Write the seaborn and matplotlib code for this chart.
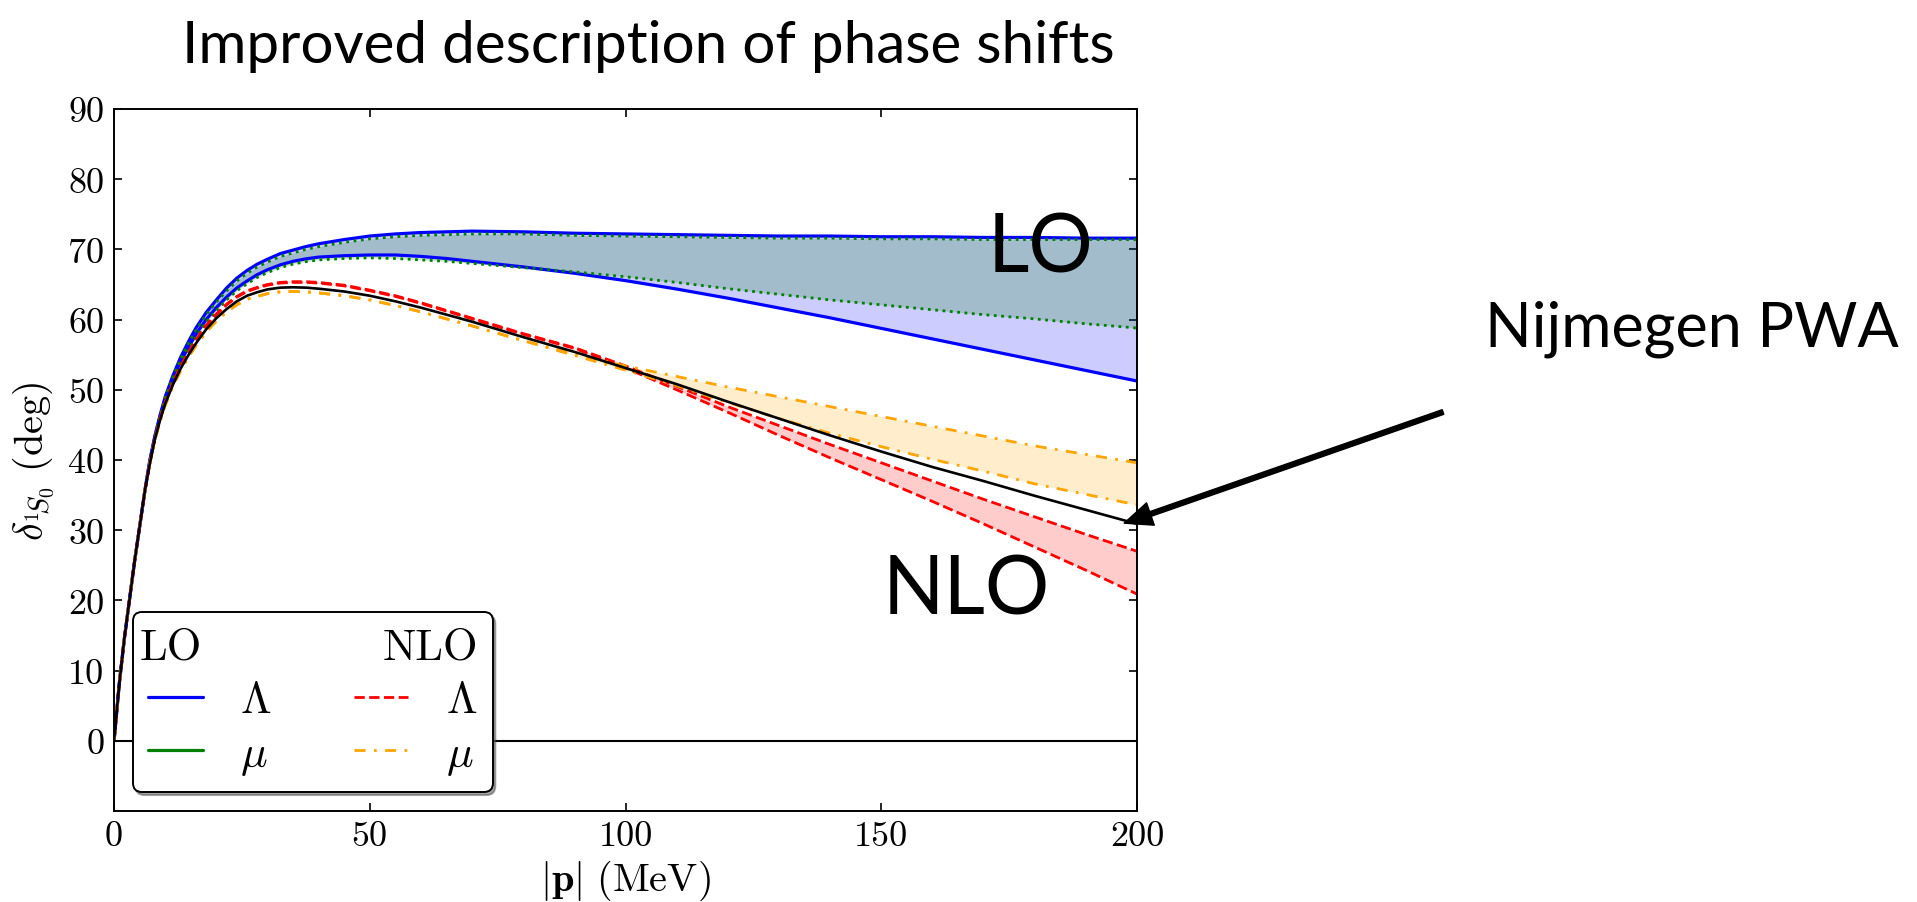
import numpy as np
import pandas as pd
import seaborn as sns
import matplotlib.pyplot as plt
from matplotlib.lines import Line2D
from matplotlib.legend_handler import HandlerBase
from matplotlib.text import Text

# ---- data (|p| in MeV, phase shift in deg) ----
p = [0, 1, 2, 3, 4, 5, 6, 7, 8, 9, 10,
     11.5, 13, 14.5, 16,
     18, 20, 22, 24, 26, 28, 30,
     32.5, 35, 37.5, 40,
     45, 50, 55, 60, 65, 70,
     80, 90, 100, 110, 120, 130, 140, 150, 160, 170, 180, 190, 200]

# Nijmegen PWA
pwa = [0, 8, 14.5, 20, 25.5, 30.5, 35.5, 39.5, 43, 45.7, 48.0,
       50.7, 53.0, 54.9, 56.6,
       58.6, 60.2, 61.5, 62.6, 63.4, 63.9, 64.3,
       64.55, 64.6, 64.55, 64.4,
       64.0, 63.4, 62.6, 61.7, 60.7, 59.7,
       57.5, 55.4, 53.1, 50.8, 48.3, 45.9, 43.5, 41.2, 39.0, 37.0, 34.9, 32.9, 30.9]

# LO, Lambda variation (band edges)
lo_lam_hi = [0, 8, 14.5, 20, 25.5, 30.5, 35.5, 40, 43.5, 46.4, 49.0,
             52.0, 54.6, 56.8, 58.8,
             61.0, 62.8, 64.5, 65.9, 67.0, 67.9, 68.6,
             69.4, 69.9, 70.4, 70.8,
             71.4, 71.9, 72.2, 72.4, 72.5, 72.6,
             72.5, 72.3, 72.2, 72.1, 72.0, 71.9, 71.9, 71.8, 71.8, 71.7, 71.7, 71.6, 71.6]
lo_lam_lo = [0, 8, 14.5, 20, 25.5, 30.5, 35.5, 39.8, 43.3, 46.1, 48.7,
             51.6, 54.0, 56.0, 57.9,
             60.0, 61.7, 63.2, 64.5, 65.5, 66.4, 67.1,
             67.8, 68.3, 68.65, 68.9,
             69.1, 69.2, 69.2, 69.0, 68.7, 68.3,
             67.5, 66.6, 65.55, 64.35, 63.05, 61.65, 60.25, 58.75, 57.25, 55.75, 54.25, 52.75, 51.25]

# LO, mu variation
lo_mu_hi = [0, 8, 14.5, 20, 25.5, 30.5, 35.5, 39.9, 43.4, 46.3, 48.9,
            51.8, 54.4, 56.6, 58.5,
            60.7, 62.5, 64.1, 65.5, 66.6, 67.5, 68.2,
            69.0, 69.5, 70.0, 70.4,
            71.0, 71.5, 71.8, 72.0, 72.1, 72.2,
            72.2, 72.0, 71.9, 71.8, 71.7, 71.6, 71.6, 71.5, 71.5, 71.4, 71.4, 71.4, 71.4]
lo_mu_lo = [0, 8, 14.5, 20, 25.5, 30.5, 35.5, 39.7, 43.2, 46.0, 48.5,
            51.4, 53.8, 55.7, 57.5,
            59.7, 61.3, 62.8, 64.1, 65.1, 66.0, 66.7,
            67.4, 67.9, 68.25, 68.5,
            68.7, 68.8, 68.7, 68.5, 68.3, 68.0,
            67.4, 66.8, 66.1, 65.3, 64.4, 63.6, 62.8, 62.1, 61.4, 60.7, 60.1, 59.4, 58.8]

# NLO, Lambda variation
nlo_lam_hi = [0, 8, 14.5, 20, 25.5, 30.5, 35.5, 39.6, 43.1, 45.9, 48.2,
              51.0, 53.4, 55.3, 57.1,
              59.2, 60.8, 62.2, 63.3, 64.1, 64.6, 65.0,
              65.3, 65.4, 65.4, 65.3,
              64.9, 64.2, 63.4, 62.4, 61.3, 60.2,
              58.0, 56.0, 53.4, 50.5, 47.6, 44.9, 42.2, 39.6, 37.0, 34.4, 31.9, 29.4, 27.0]
nlo_lam_lo = [0, 8, 14.5, 20, 25.5, 30.5, 35.5, 39.6, 43.1, 45.8, 48.1,
              50.9, 53.3, 55.2, 57.0,
              59.1, 60.7, 62.1, 63.2, 64.0, 64.5, 64.9,
              65.2, 65.3, 65.3, 65.2,
              64.8, 64.1, 63.3, 62.3, 61.2, 60.1,
              57.9, 55.9, 53.1, 50.0, 46.8, 43.5, 40.3, 37.2, 34.1, 30.9, 27.6, 24.3, 20.9]

# NLO, mu variation
nlo_mu_hi = [0, 8, 14.5, 20, 25.5, 30.5, 35.5, 39.5, 42.9, 45.5, 47.8,
             50.5, 52.7, 54.6, 56.3,
             58.2, 59.8, 61.1, 62.1, 62.9, 63.3, 63.7,
             63.95, 64.0, 63.95, 63.8,
             63.4, 62.8, 62.0, 61.1, 60.1, 59.1,
             57.0, 55.1, 53.4, 51.9, 50.4, 49.0, 47.6, 46.2, 44.8, 43.4, 42.0, 40.8, 39.6]
nlo_mu_lo = [0, 8, 14.5, 20, 25.5, 30.5, 35.5, 39.5, 42.9, 45.5, 47.8,
             50.5, 52.7, 54.6, 56.3,
             58.2, 59.8, 61.1, 62.1, 62.9, 63.3, 63.7,
             63.95, 64.0, 63.95, 63.8,
             63.4, 62.8, 62.0, 61.1, 60.1, 59.1,
             57.0, 54.9, 52.8, 50.6, 48.2, 45.9, 43.8, 41.9, 40.1, 38.4, 36.6, 35.1, 33.6]

x_ticks = [0, 50, 100, 150, 200]
y_ticks = [0, 10, 20, 30, 40, 50, 60, 70, 80, 90]

# ---- style ----
sns.set_style('ticks')
plt.rcParams['font.family'] = ['cmr10', 'DejaVu Sans']
plt.rcParams['mathtext.fontset'] = 'cm'
plt.rcParams['axes.unicode_minus'] = False
plt.rcParams['xtick.direction'] = 'in'
plt.rcParams['ytick.direction'] = 'in'
plt.rcParams['xtick.top'] = True
plt.rcParams['ytick.right'] = True
for key in ['text.color', 'axes.labelcolor', 'xtick.color', 'ytick.color', 'axes.edgecolor']:
    plt.rcParams[key] = 'black'

DASHDOT = (0, (4, 3, 1, 3))

fig = plt.figure(figsize=(19.17, 9.03), dpi=100)
ax = fig.add_axes([0.0595, 0.1008, 0.5336, 0.7774])

# bands
ax.fill_between(p, lo_lam_lo, lo_lam_hi, color='blue', alpha=0.2, lw=0)
ax.fill_between(p, lo_mu_lo, lo_mu_hi, color='green', alpha=0.2, lw=0)
ax.fill_between(p, nlo_lam_lo, nlo_lam_hi, color='red', alpha=0.2, lw=0)
ax.fill_between(p, nlo_mu_lo, nlo_mu_hi, color='orange', alpha=0.2, lw=0)

# band edges
for ys in (lo_lam_hi, lo_lam_lo):
    sns.lineplot(x=p, y=ys, ax=ax, color='blue', lw=2.3)
for ys in (lo_mu_hi, lo_mu_lo):
    sns.lineplot(x=p, y=ys, ax=ax, color='green', lw=2.0, linestyle=':')
for ys in (nlo_lam_hi, nlo_lam_lo):
    sns.lineplot(x=p, y=ys, ax=ax, color='red', lw=2.0, linestyle='--')
for ys in (nlo_mu_hi, nlo_mu_lo):
    sns.lineplot(x=p, y=ys, ax=ax, color='orange', lw=2.0, linestyle=DASHDOT)

# Nijmegen PWA
sns.lineplot(x=p, y=pwa, ax=ax, color='black', lw=1.9)
ax.axhline(0, color='black', lw=1.5)

ax.set_xlim(0, 200)
ax.set_ylim(-10, 90)
ax.set_xticks(x_ticks)
ax.set_yticks(y_ticks)
ax.tick_params(labelsize=26, length=6, width=1.2, pad=7)
for s in ax.spines.values():
    s.set_linewidth(1.4)
ax.set_xlabel(r'$|\mathbf{p}|\ (\mathrm{MeV})$', fontsize=29, labelpad=4)
ax.set_ylabel(r'$\delta_{{}^1\!S_0}\ (\mathrm{deg})$', fontsize=29, labelpad=8)


# legend with "LO" / "NLO" column headers
class HeaderHandler(HandlerBase):
    def __init__(self, text, x, ha):
        super().__init__()
        self.text = text
        self.x = x
        self.ha = ha

    def legend_artist(self, legend, orig_handle, fontsize, handlebox):
        t = Text(self.x * fontsize, 0, self.text, fontsize=fontsize,
                 fontfamily='cmr10', va='baseline', ha=self.ha)
        handlebox.add_artist(t)
        return t


hlen, hpad = 1.22, 0.85
hdr_lo = Line2D([], [], color='none')
hdr_nlo = Line2D([], [], color='none')
handles = [hdr_lo,
           Line2D([], [], color='blue', lw=2.3),
           Line2D([], [], color='green', lw=2.3),
           hdr_nlo,
           Line2D([], [], color='red', lw=2.0, linestyle='--'),
           Line2D([], [], color='orange', lw=2.0, linestyle=DASHDOT)]
labels = ['', r'$\Lambda$', r'$\mu$', '', r'$\Lambda$', r'$\mu$']
leg = ax.legend(handles, labels, ncol=2, loc='lower left', fontsize=32,
                handlelength=hlen, handletextpad=hpad, columnspacing=1.85,
                labelspacing=0.3, borderaxespad=0.42, borderpad=0.35,
                frameon=True, fancybox=True, shadow=True, framealpha=1,
                edgecolor='black',
                handler_map={hdr_lo: HeaderHandler('LO', -0.2, 'left'),
                             hdr_nlo: HeaderHandler('NLO', hlen + hpad + 0.72, 'right')})
leg.get_frame().set_linewidth(1.4)

# slide annotations
fig.text(0.338, 0.949, 'Improved description of phase shifts', ha='center', va='center',
         fontsize=42, fontfamily='Lato')
fig.text(0.5154, 0.6977, 'LO', ha='left', va='baseline', fontsize=58, fontfamily='Lato')
fig.text(0.4606, 0.319, 'NLO', ha='left', va='baseline', fontsize=58, fontfamily='Lato')
fig.text(0.7746, 0.6168, 'Nijmegen PWA', ha='left', va='baseline', fontsize=44, fontfamily='Lato')
ax.annotate('', xy=(197.5, 31.0), xycoords='data',
            xytext=(1443 / 1917, 1 - 413 / 903), textcoords='figure fraction',
            arrowprops=dict(facecolor='black', edgecolor='black', width=3.5,
                            headwidth=17, headlength=20, shrink=0),
            annotation_clip=False)

fig.savefig('out.png', dpi=100)
